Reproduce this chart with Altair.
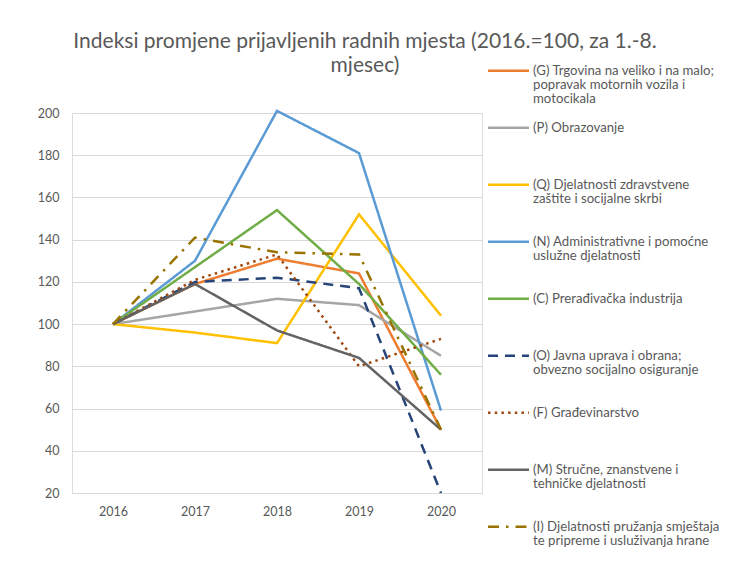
import altair as alt
import pandas as pd

years = ["2016", "2017", "2018", "2019", "2020"]

series = [
    "(G) Trgovina na veliko i na malo;|popravak motornih vozila i|motocikala",
    "(P) Obrazovanje",
    "(Q) Djelatnosti zdravstvene|zaštite i socijalne skrbi",
    "(N) Administrativne i pomoćne|uslužne djelatnosti",
    "(C) Prerađivačka industrija",
    "(O) Javna uprava i obrana;|obvezno socijalno osiguranje",
    "(F) Građevinarstvo",
    "(M) Stručne, znanstvene i|tehničke djelatnosti",
    "(I) Djelatnosti pružanja smještaja|te pripreme i usluživanja hrane",
]

g_trgovina = [100, 119, 131, 124, 50]
p_obrazovanje = [100, 106, 112, 109, 85]
q_zdravstvo = [100, 96, 91, 152, 104]
n_administrativne = [100, 130, 201, 181, 59]
c_preradjivacka = [100, 127, 154, 119, 76]
o_javna_uprava = [100, 120, 122, 117, 20]
f_gradjevinarstvo = [100, 121, 133, 80, 93]
m_strucne = [100, 119, 97, 84, 50]
i_smjestaj = [100, 141, 134, 133, 50]

values = [g_trgovina, p_obrazovanje, q_zdravstvo, n_administrativne,
          c_preradjivacka, o_javna_uprava, f_gradjevinarstvo, m_strucne, i_smjestaj]

colors = ["#ED7D31", "#A5A5A5", "#FFC000", "#5B9BD5", "#70AD47",
          "#264478", "#9E480E", "#636363", "#997300"]
dashes = [[1, 0], [1, 0], [1, 0], [1, 0], [1, 0],
          [10, 7], [2.5, 4.2], [1, 0], [11, 7, 2.5, 7]]

y_ticks = [20, 40, 60, 80, 100, 120, 140, 160, 180, 200]

rows = []
for s, vals in zip(series, values):
    for y, v in zip(years, vals):
        rows.append({"godina": y, "serija": s, "indeks": v})
df = pd.DataFrame(rows)

NB = "\u00a0"
legend = alt.Legend(
    title=None, orient="none", legendX=414.5, legendY=-64.3,
    symbolType="stroke", symbolSize=1681, symbolStrokeWidth=2.5,
    labelFont="Lato", labelFontSize=13.2, labelColor="#595959",
    labelLimit=400, labelOffset=2.5, rowPadding=0, padding=0,
    labelBaseline="middle",
    labelExpr="slice(split(datum.label + '|" + NB + "|" + NB + "', '|'), 0, 3)",
)

title_lines = ["Indeksi promjene prijavljenih radnih mjesta (2016.=100, za 1.-8.", "mjesec)"]

chart = alt.Chart(df).mark_line(strokeWidth=2.5, clip=False).encode(
    x=alt.X("godina:O", sort=years,
            axis=alt.Axis(title=None, labelAngle=0, domain=False, ticks=False,
                          labelPadding=12, grid=False, labelFont="Lato",
                          labelFontSize=12.5, labelColor="#595959")),
    y=alt.Y("indeks:Q", scale=alt.Scale(domain=[20, 200], nice=False, zero=False),
            axis=alt.Axis(title=None, values=y_ticks, domain=False, ticks=False,
                          labelPadding=13, gridColor="#D9D9D9", gridWidth=1,
                          labelFont="Lato", labelFontSize=12.5, labelColor="#595959")),
    color=alt.Color("serija:N", sort=series,
                    scale=alt.Scale(domain=series, range=colors), legend=legend),
    strokeDash=alt.StrokeDash("serija:N", sort=series,
                              scale=alt.Scale(domain=series, range=dashes), legend=legend),
).properties(
    width=410, height=380,
    title=alt.TitleParams(text=title_lines, font="Lato", fontSize=21, fontWeight="normal",
                          color="#595959", anchor="middle", dx=88, dy=31, lineHeight=24),
    autosize=alt.AutoSizeParams(type="none"),
    padding={"left": 64, "top": 105, "right": 245, "bottom": 72},
    background="white",
).configure_view(stroke=None).configure(style={"guide-label": {"lineHeight": 14.3}})

chart.save("out.html", embed_options={"renderer": "svg", "actions": False})
